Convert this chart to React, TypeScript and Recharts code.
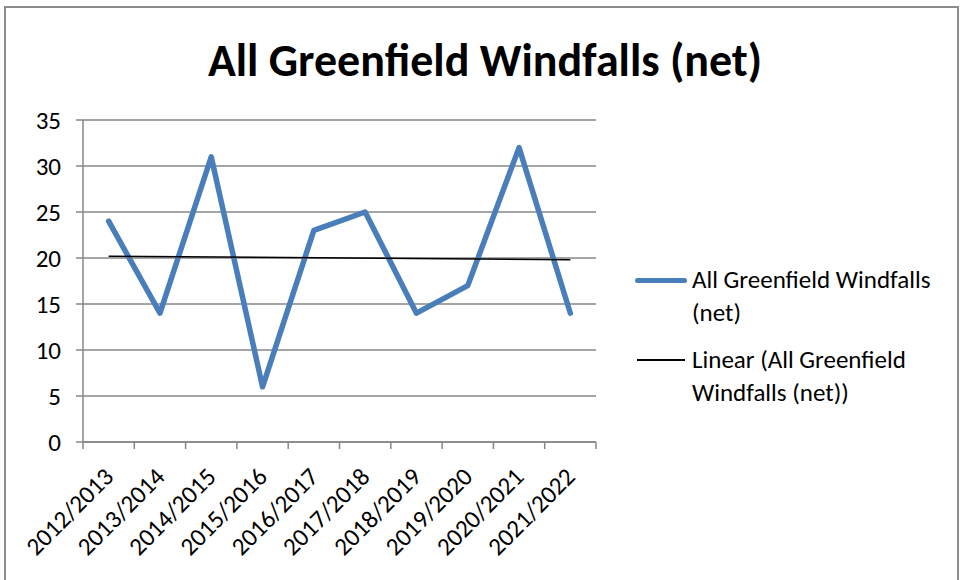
import React from "react";
import { LineChart, Line, XAxis, YAxis, CartesianGrid } from "recharts";

const categories = [
  "2012/2013", "2013/2014", "2014/2015", "2015/2016", "2016/2017",
  "2017/2018", "2018/2019", "2019/2020", "2020/2021", "2021/2022",
];
const windfalls = [24, 14, 31, 6, 23, 25, 14, 17, 32, 14];
// trend line endpoints (first and last category)
const trendStart = 20.2;
const trendEnd = 19.8;
const yTicks = [0, 5, 10, 15, 20, 25, 30, 35];
const seriesName = "All Greenfield Windfalls (net)";

const data = categories.map((c, i) => ({
  x: i + 0.5,
  cat: c,
  value: windfalls[i],
  trend: i === 0 ? trendStart : i === categories.length - 1 ? trendEnd : null,
}));

const boundaryTicks = categories.map((_, i) => i).concat([categories.length]);
const centerTicks = categories.map((_, i) => i + 0.5);

const FONT = "Carlito, Lato, 'Open Sans', sans-serif";
const GRID = "#878787";

const XLabel = (props: any) => {
  const { x, y, payload } = props;
  const idx = Math.round(payload.value - 0.5);
  const cy = y + 29;
  return (
    <text
      x={x}
      y={cy}
      dy="0.35em"
      textAnchor="end"
      transform={`rotate(-45, ${x}, ${cy})`}
      fill="#000"
      fontSize={25}
      fontFamily={FONT}
    >
      {categories[idx]}
    </text>
  );
};

export default function App() {
  return (
    <div
      style={{
        position: "absolute",
        left: 0,
        top: 0,
        width: 963,
        height: 580,
        background: "#fff",
        overflow: "hidden",
        fontFamily: FONT,
      }}
    >
      <div
        style={{
          position: "absolute",
          left: 4,
          top: 6,
          width: 955,
          height: 600,
          border: "2px solid #8c8c8c",
          boxSizing: "border-box",
        }}
      />
      <div
        style={{
          position: "absolute",
          left: 0,
          width: 970,
          top: 32,
          textAlign: "center",
          fontWeight: 700,
          fontSize: 46,
          lineHeight: "56px",
          color: "#000",
        }}
      >
        {seriesName}
      </div>
      <div style={{ position: "absolute", left: 0, top: 0 }}>
        <LineChart
          width={963}
          height={580}
          data={data}
          margin={{ top: 120, right: 367, bottom: 0, left: 0 }}
        >
          <CartesianGrid
            horizontal={true}
            vertical={false}
            stroke={GRID}
            strokeWidth={1.5}
            xAxisId="b"
          />
          <XAxis
            xAxisId="b"
            dataKey="x"
            type="number"
            domain={[0, 10]}
            ticks={boundaryTicks}
            interval={0}
            tickFormatter={() => ""}
            tickSize={7}
            height={1}
            stroke={GRID}
            strokeWidth={1.5}
            allowDataOverflow
          />
          <XAxis
            xAxisId="l"
            dataKey="x"
            type="number"
            domain={[0, 10]}
            ticks={centerTicks}
            interval={0}
            tick={<XLabel />}
            tickLine={false}
            axisLine={false}
            tickSize={0}
            tickMargin={0}
            height={137}
          />
          <YAxis
            domain={[0, 35]}
            ticks={yTicks}
            interval={0}
            width={83}
            tickSize={7}
            tickMargin={15}
            stroke={GRID}
            strokeWidth={1.5}
            tick={{ fill: "#000", fontSize: 25, fontFamily: FONT }}
          />
          <Line
            xAxisId="b"
            dataKey="value"
            stroke="#4a7ebb"
            strokeWidth={5.5}
            strokeLinecap="round"
            strokeLinejoin="round"
            dot={false}
            activeDot={false}
            isAnimationActive={false}
          />
          <Line
            xAxisId="b"
            dataKey="trend"
            stroke="#000"
            strokeWidth={1.5}
            connectNulls
            dot={false}
            activeDot={false}
            isAnimationActive={false}
          />
        </LineChart>
      </div>
      <div
        style={{
          position: "absolute",
          left: 635,
          top: 0,
          fontSize: 25,
          lineHeight: "33px",
          color: "#000",
        }}
      >
        <div style={{ position: "absolute", top: 263, left: 0, width: 328 }}>
          <div
            style={{
              position: "absolute",
              left: 0,
              top: 15,
              width: 52,
              height: 5,
              borderRadius: 3,
              background: "#4a7ebb",
            }}
          />
          <div style={{ marginLeft: 57 }}>
            All Greenfield Windfalls
            <br />
            (net)
          </div>
        </div>
        <div style={{ position: "absolute", top: 343, left: 0, width: 328 }}>
          <div
            style={{
              position: "absolute",
              left: 2,
              top: 16,
              width: 48,
              height: 1.5,
              background: "#000",
            }}
          />
          <div style={{ marginLeft: 57 }}>
            Linear (All Greenfield
            <br />
            Windfalls (net))
          </div>
        </div>
      </div>
    </div>
  );
}
